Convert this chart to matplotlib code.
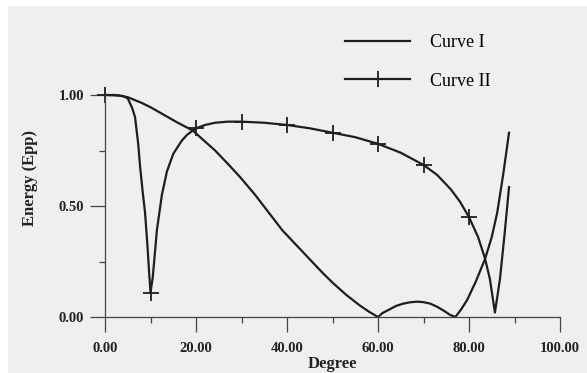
import numpy as np
import matplotlib
matplotlib.use("Agg")
import matplotlib.pyplot as plt
from matplotlib.patches import Rectangle

# data
curve1_x = [0, 3, 5, 8, 10, 13, 16, 19.3, 22, 24.2, 27, 29.7, 33, 36, 39, 42, 45, 48, 50,
            53, 56, 58, 60, 61, 62.6, 64, 65.5, 67, 68.5, 70, 71.5, 73, 74.5, 75.8, 77,
            78.3, 79.6, 81.5, 83.5, 85, 86.2, 87.5, 88.8]
curve1_y = [1.00, 0.998, 0.99, 0.965, 0.945, 0.91, 0.875, 0.84, 0.79, 0.75, 0.69, 0.63, 0.55,
            0.47, 0.39, 0.325, 0.26, 0.195, 0.155, 0.1, 0.052, 0.024, 0.0, 0.018, 0.035, 0.05,
            0.06, 0.066, 0.069, 0.067, 0.06, 0.046, 0.028, 0.01, 0.0, 0.035, 0.077, 0.16,
            0.26, 0.36, 0.47, 0.64, 0.83]

curve2_x = [0, 2, 4, 5, 6, 6.6, 7.3, 7.7, 8.3, 8.8, 9.3, 9.7, 10, 10.5, 11.4, 12.5, 13.6, 15,
            16.9, 18, 19.3, 20, 22, 24.2, 27, 30, 35, 40, 45, 50, 55, 60, 65, 70, 73, 76, 78,
            80, 82, 83.5, 84.6, 85.7, 86.8, 87.9, 88.8]
curve2_y = [1.00, 1.00, 0.995, 0.985, 0.94, 0.90, 0.78, 0.68, 0.56, 0.47, 0.33, 0.20, 0.11,
            0.18, 0.39, 0.55, 0.655, 0.735, 0.795, 0.82, 0.84, 0.85, 0.865, 0.875, 0.88, 0.88,
            0.875, 0.865, 0.85, 0.83, 0.81, 0.78, 0.74, 0.685, 0.64, 0.575, 0.52, 0.45, 0.36,
            0.265, 0.17, 0.02, 0.17, 0.39, 0.585]
marker_degrees = [0, 10, 20, 30, 40, 50, 60, 70, 80]

xticks = [0, 20, 40, 60, 80, 100]
yticks = [0, 0.5, 1.0]

plt.rcParams['font.family'] = ['Liberation Serif', 'DejaVu Serif']

W, H = 587, 373
fig = plt.figure(figsize=(W / 100, H / 100), dpi=100, facecolor='white')
# scanned page look: grey paper with a white strip top / left
fig.patches.append(Rectangle((8 / W, 0), 1, 1 - 6 / H, transform=fig.transFigure,
                             facecolor='#efefef', edgecolor='none', zorder=-10))

ax = fig.add_axes([105 / W, 1 - 317 / H, 455 / W, 278 / H])
ax.patch.set_visible(False)

ink = '#1e1e1e'
ax.plot(curve1_x, curve1_y, color=ink, lw=1.6, clip_on=False, label='Curve I')
mark_idx = [curve2_x.index(d) for d in marker_degrees]
ax.plot(curve2_x, curve2_y, color=ink, lw=1.6, marker='+', markersize=12,
        markeredgewidth=1.3, markevery=mark_idx, clip_on=False, label='Curve II')

ax.set_xlim(0, 100)
ax.set_ylim(0, 278 / 222)
for s in ['top', 'right']:
    ax.spines[s].set_visible(False)
ax.spines['left'].set_bounds(0, 1.0)
ax.spines['bottom'].set_bounds(0, 100)
for s in ['left', 'bottom']:
    ax.spines[s].set_color('#444444')
    ax.spines[s].set_linewidth(0.9)

ax.set_xticks(xticks)
ax.set_xticklabels(['%.2f' % v for v in xticks])
ax.set_yticks(yticks)
ax.set_yticklabels(['%.2f' % v for v in yticks])
ax.set_xticks([10, 30, 50, 70, 90], minor=True)
ax.set_yticks([0.25, 0.75], minor=True)
ax.tick_params(which='major', length=11, width=0.9, color='#444444', labelsize=10.5)
ax.tick_params(axis='x', which='major', pad=7)
ax.tick_params(axis='y', which='major', pad=4)
ax.tick_params(which='minor', length=4.5, width=0.9, color='#444444')
for lab in ax.get_xticklabels() + ax.get_yticklabels():
    lab.set_fontweight('bold')
    lab.set_color('#222222')

ax.set_xlabel('Degree', fontsize=12, fontweight='bold', labelpad=0.5, color='#222222')
ax.set_ylabel('Energy (Epp)', fontsize=12, fontweight='bold', labelpad=15, color='#222222')

ax.legend(loc='upper left', bbox_to_anchor=(345 / W, 1 - 34 / H),
          bbox_transform=fig.transFigure, frameon=False, fontsize=13,
          handlelength=3.6, handletextpad=1.1, labelspacing=1.2, borderpad=0,
          borderaxespad=0)

fig.savefig('out.png', dpi=100, facecolor=fig.get_facecolor())
